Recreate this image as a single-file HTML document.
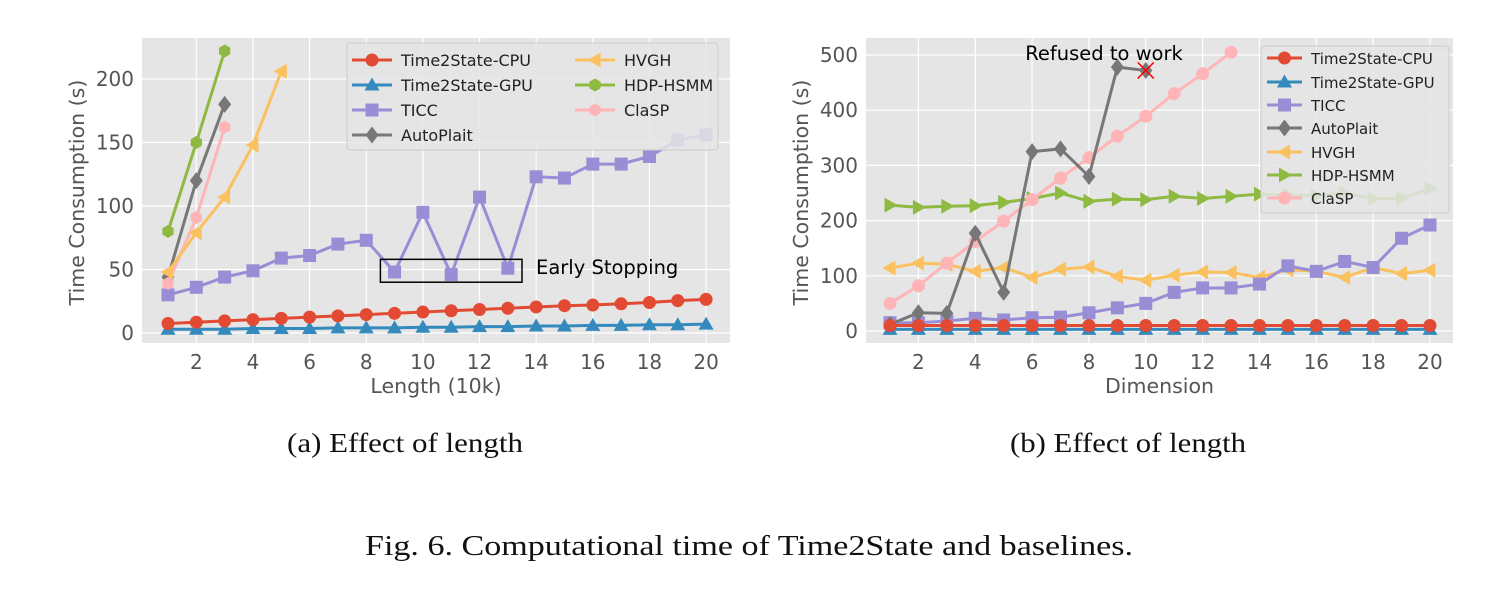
<!DOCTYPE html><html><head><meta charset="utf-8"><style>body{margin:0;background:#fff}svg{display:block}</style></head><body>
<svg id="s" width="1499" height="590" xmlns="http://www.w3.org/2000/svg" font-family="DejaVu Sans, sans-serif"></svg>
<script>
const s=document.getElementById('s');let h='';
const C={cpu:'#E24A33',gpu:'#348ABD',ticc:'#988ED5',ap:'#777777',hv:'#FBC15E',hdp:'#8EBA42',cl:'#FFB5B8'};
function mk(t,x,y,c,r){r=r||6.5;
 if(t=='o')return `<circle cx="${x}" cy="${y}" r="${r}" fill="${c}"/>`;
 if(t=='s')return `<rect x="${x-r}" y="${y-r}" width="${2*r}" height="${2*r}" fill="${c}"/>`;
 if(t=='^')return `<polygon points="${x},${y-r-1} ${x-r-1},${y+r-1} ${x+r+1},${y+r-1}" fill="${c}"/>`;
 if(t=='<')return `<polygon points="${x-r-1},${y} ${x+r-1},${y-r-1} ${x+r-1},${y+r+1}" fill="${c}"/>`;
 if(t=='>')return `<polygon points="${x+r+1},${y} ${x-r+1},${y-r-1} ${x-r+1},${y+r+1}" fill="${c}"/>`;
 if(t=='d')return `<polygon points="${x},${y-r-2} ${x+r},${y} ${x},${y+r+2} ${x-r},${y}" fill="${c}"/>`;
 if(t=='h'){let p=[];for(let i=0;i<6;i++){let a=Math.PI/3*i+Math.PI/6;p.push((x+r*Math.cos(a))+','+(y+r*Math.sin(a)))}return `<polygon points="${p.join(' ')}" fill="${c}"/>`;}
}
function chart(o){
 const X=v=>o.x0+(v-1)*o.dx, Y=v=>o.y0-v*o.dy;
 h+=`<rect x="${o.L}" y="${o.T}" width="${o.R-o.L}" height="${o.B-o.T}" fill="#E5E5E5"/>`;
 for(let v=2;v<=20;v+=2){h+=`<line x1="${X(v)}" x2="${X(v)}" y1="${o.T}" y2="${o.B}" stroke="#fff" stroke-width="1.2"/><text x="${X(v)}" y="${o.B+26}" font-size="20" fill="#555" text-anchor="middle">${v}</text>`;}
 o.yt.forEach(v=>{h+=`<line x1="${o.L}" x2="${o.R}" y1="${Y(v)}" y2="${Y(v)}" stroke="#fff" stroke-width="1.2"/><text x="${o.L-8}" y="${Y(v)+7}" font-size="20" fill="#555" text-anchor="end">${v}</text>`;});
 h+=`<text x="${(o.L+o.R)/2}" y="${o.B+50}" font-size="20.5" fill="#555" text-anchor="middle">${o.xl}</text>`;
 h+=`<text transform="translate(${o.L-58},${(o.T+o.B)/2+2}) rotate(-90)" font-size="20.5" fill="#555" text-anchor="middle">Time Consumption (s)</text>`;
 o.ser.forEach(sr=>{const pts=sr.d.map((v,i)=>X(i+1)+','+Y(v)).join(' ');h+=`<polyline points="${pts}" fill="none" stroke="${sr.c}" stroke-width="3"/>`;sr.d.forEach((v,i)=>h+=mk(sr.m,X(i+1),Y(v),sr.c));});
 if(o.extra)o.extra(X,Y);
 const lg=o.lg;h+=`<rect x="${lg.x}" y="${lg.y}" width="${lg.w}" height="${lg.h}" fill="#E5E5E5" fill-opacity="0.85" stroke="#ccc" rx="3"/>`;
 lg.items.forEach(it=>{h+=`<line x1="${it[0]}" x2="${it[0]+lg.ll}" y1="${it[1]}" y2="${it[1]}" stroke="${it[3].c}" stroke-width="3"/>`+mk(it[3].m,it[0]+lg.ll/2,it[1],it[3].c)+`<text x="${it[0]+lg.ll+9}" y="${it[1]+6}" font-size="${lg.fs}" fill="#222">${it[2]}</text>`;});
}
const A=[7.5,8.5,9.5,10.5,11.5,12.5,13.5,14.5,15.5,16.5,17.5,18.5,19.5,20.5,21.5,22,23,24,25.5,26.5];
const G=[3,3,3,3.5,3.5,3.5,4,4,4,4.5,4.5,5,5,5.5,5.5,6,6,6.5,6.5,7];
const L={cpu:{c:C.cpu,m:'o',d:A},gpu:{c:C.gpu,m:'^',d:G},ticc:{c:C.ticc,m:'s',d:[30,36,44,49,59,61,70,73,48,95,46,107,51,123,122,133,133,139,152,156]},
ap:{c:C.ap,m:'d',d:[44,120,180]},hv:{c:C.hv,m:'<',d:[48,79,107,148,206]},hdp:{c:C.hdp,m:'h',d:[80,150,222]},cl:{c:C.cl,m:'h',d:[39,91,162]}};
chart({L:142,R:730,T:38,B:343,x0:168,dx:28.32,y0:333,dy:1.27,yt:[0,50,100,150,200],xl:'Length (10k)',
 ser:[L.ticc,L.gpu,L.cpu,L.hdp,L.ap,L.cl,L.hv],
 extra:(X,Y)=>{h+=`<rect x="${X(8.5)}" y="${Y(58)}" width="${X(13.5)-X(8.5)}" height="${Y(40)-Y(58)}" fill="none" stroke="#000" stroke-width="1.5"/><text x="536" y="274" font-size="19.5" fill="#000">Early Stopping</text>`;},
 lg:{x:347,y:43,w:371,h:107,ll:40,fs:16,items:[[352,60,'Time2State-CPU',L.cpu],[352,85,'Time2State-GPU',L.gpu],[352,110,'TICC',L.ticc],[352,135,'AutoPlait',L.ap],[575,60,'HVGH',L.hv],[575,85,'HDP-HSMM',L.hdp],[575,110,'ClaSP',L.cl]]}});
const R={cpu:{c:C.cpu,m:'o',d:Array(20).fill(10)},gpu:{c:C.gpu,m:'^',d:Array(20).fill(3)},
ticc:{c:C.ticc,m:'s',d:[15,15,18,23,20,24,25,33,42,50,70,78,78,85,118,108,126,115,168,192]},
ap:{c:C.ap,m:'d',d:[12,33,32,177,70,325,330,280,478,472]},
hv:{c:C.hv,m:'<',d:[114,123,121,108,115,97,112,116,99,92,101,107,106,97,111,108,97,115,104,110]},
hdp:{c:C.hdp,m:'>',d:[228,224,226,227,233,240,250,235,239,238,244,240,244,248,246,245,250,240,240,258]},
cl:{c:C.cl,m:'o',d:[50,82,123,162,199,238,277,314,353,389,430,466,505]}};
chart({L:866,R:1453,T:38,B:343,x0:890,dx:28.42,y0:331,dy:0.552,yt:[0,100,200,300,400,500],xl:'Dimension',
 ser:[R.hdp,R.hv,R.ticc,R.cl,R.ap,R.gpu,R.cpu],
 extra:(X,Y)=>{const x=X(10),y=Y(472);h+=`<path d="M${x-8},${y-8}L${x+8},${y+8}M${x+8},${y-8}L${x-8},${y+8}" stroke="red" stroke-width="1.5"/><text x="1104" y="60" font-size="19.5" fill="#000" text-anchor="middle">Refused to work</text>`;},
 lg:{x:1261,y:46,w:188,h:167,ll:35,fs:15,items:[[1267,58,'Time2State-CPU',R.cpu],[1267,82,'Time2State-GPU',R.gpu],[1267,105,'TICC',R.ticc],[1267,128,'AutoPlait',R.ap],[1267,152,'HVGH',R.hv],[1267,175,'HDP-HSMM',R.hdp],[1267,198,'ClaSP',R.cl]]}});
h+=`<g font-family="Liberation Serif, serif" fill="#111"><text x="287" y="452" font-size="27" textLength="236" lengthAdjust="spacingAndGlyphs">(a)  Effect of length</text><text x="1010" y="452" font-size="27" textLength="236" lengthAdjust="spacingAndGlyphs">(b)  Effect of length</text><text x="365" y="555" font-size="29" textLength="768" lengthAdjust="spacingAndGlyphs">Fig. 6.  Computational time of Time2State and baselines.</text></g>`;
s.innerHTML=h;
</script></body></html>
